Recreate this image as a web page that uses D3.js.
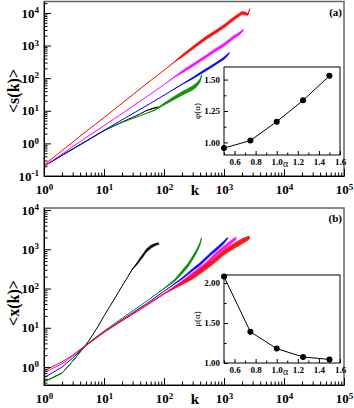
<!DOCTYPE html>
<html><head><meta charset="utf-8">
<script src="https://cdn.jsdelivr.net/npm/d3@7"></script>
<style>body{margin:0;background:#fff} svg{display:block}</style>
</head><body><svg id="c" width="354" height="408"></svg>
<script>
// ---------- DATA ----------
// Panel (a): <s(k)> vs k ; n* = half width of noisy band (decades)
const kA_black = [1, 2, 5, 10, 20, 40, 50, 60, 70, 80];
const sA_black = [0.2, 0.43, 1.15, 2.45, 4.5, 8.0, 10.0, 11.2, 12.2, 13.0];
const nA_black = [0, 0, 0, 0, 0, 0, 0.01, 0.02, 0.02, 0.02];

const kA_green = [1, 2, 5, 10, 12, 20, 40, 70, 100, 150, 200, 250, 300, 350, 400, 425];
const sA_green = [0.2, 0.43, 1.15, 2.45, 2.9, 4.4, 7.0, 10.5, 16, 25, 34, 42, 50, 62, 85, 125];
const nA_green = [0, 0, 0, 0, 0, 0, 0, 0.02, 0.045, 0.06, 0.07, 0.07, 0.075, 0.075, 0.07, 0.04];

const kA_blue = [1, 2, 5, 10, 20, 50, 100, 200, 300, 400, 600, 800, 1000, 1100, 1230];
const sA_blue = [0.2, 0.43, 1.18, 2.5, 5.3, 14, 30, 65, 100, 140, 220, 310, 410, 480, 600];
const nA_blue = [0, 0, 0, 0, 0, 0, 0, 0.015, 0.035, 0.045, 0.045, 0.045, 0.045, 0.045, 0.03];

const kA_magenta = [1, 2, 5, 10, 20, 50, 100, 150, 200, 300, 500, 700, 1000, 1500, 1800, 2100];
const sA_magenta = [0.2, 0.47, 1.5, 3.5, 8.2, 26, 63, 110, 155, 250, 460, 700, 1050, 1870, 2300, 3000];
const nA_magenta = [0, 0, 0, 0, 0, 0, 0, 0.02, 0.045, 0.055, 0.055, 0.055, 0.055, 0.055, 0.055, 0.04];

const kA_red = [1, 2, 5, 10, 20, 50, 100, 150, 200, 300, 500, 700, 1000, 1500, 2000, 2300, 2500, 2700];
const sA_red = [0.22, 0.6, 2.3, 6.2, 17, 65, 175, 320, 480, 850, 1700, 2500, 3900, 7000, 10000, 9500, 9000, 13500];
const nA_red = [0, 0, 0, 0, 0, 0, 0, 0.015, 0.045, 0.06, 0.06, 0.06, 0.06, 0.06, 0.06, 0.06, 0.04, 0.02];

// Panel (b): <x(k)> vs k
const kB_black = [1, 2, 3, 4, 5, 6, 8, 10, 15, 20, 25, 30, 35, 40, 45, 50, 60, 70, 80, 83];
const sB_black = [0.42, 0.7, 1.4, 2.4, 3.7, 5.5, 11, 20, 55, 115, 200, 320, 420, 560, 700, 900, 1150, 1300, 1400, 1350];
const nB_black = [0, 0, 0, 0, 0, 0, 0, 0, 0, 0, 0, 0.02, 0.035, 0.045, 0.05, 0.05, 0.045, 0.04, 0.03, 0.015];

const kB_green = [1, 2, 3, 4, 5, 7, 10, 20, 50, 100, 150, 200, 250, 300, 350, 400, 420];
const sB_green = [0.42, 0.7, 1.4, 2.4, 3.6, 5.5, 8.2, 17.5, 46, 100, 160, 260, 390, 600, 900, 1400, 1900];
const nB_green = [0, 0, 0, 0, 0, 0, 0, 0, 0, 0.015, 0.04, 0.055, 0.06, 0.06, 0.06, 0.06, 0.04];

const kB_blue = [1, 2, 3, 5, 10, 20, 50, 100, 200, 300, 400, 600, 800, 1000, 1150];
const sB_blue = [0.53, 1.0, 1.7, 3.5, 7.8, 16, 40, 85, 180, 300, 420, 760, 1100, 1500, 1950];
const nB_blue = [0, 0, 0, 0, 0, 0, 0, 0, 0.025, 0.04, 0.045, 0.045, 0.045, 0.045, 0.03];

const kB_magenta = [1, 2, 3, 5, 10, 20, 50, 100, 200, 300, 500, 700, 1000, 1300, 1600];
const sB_magenta = [0.72, 1.2, 1.9, 3.6, 7.8, 15.5, 38, 75, 150, 235, 420, 700, 1100, 1500, 1950];
const nB_magenta = [0, 0, 0, 0, 0, 0, 0, 0, 0.03, 0.045, 0.055, 0.055, 0.055, 0.055, 0.04];

const kB_red = [1, 2, 3, 5, 10, 20, 50, 100, 200, 300, 500, 700, 1000, 1500, 2000, 2500, 2700];
const sB_red = [0.8, 1.35, 2.0, 3.6, 7.6, 15, 36, 72, 135, 194, 350, 520, 830, 1250, 1600, 1900, 2000];
const nB_red = [0, 0, 0, 0, 0, 0, 0, 0, 0.04, 0.06, 0.075, 0.075, 0.075, 0.075, 0.075, 0.06, 0.03];

// Insets
const alpha = [0.5, 0.75, 1.0, 1.25, 1.5];
const phi = [0.955, 1.015, 1.165, 1.335, 1.53];
const mu = [2.08, 1.39, 1.18, 1.075, 1.045];

const xMajorTicks = [1, 10, 100, 1000, 10000, 100000];
const insetXTicks = [0.6, 0.8, 1.0, 1.2, 1.4, 1.6];
const insetXMinor = [0.5, 0.7, 0.9, 1.1, 1.3, 1.5];
const phiTicks = [1.0, 1.25, 1.5];
const phiMinor = [1.125, 1.375];
const muTicks = [1.0, 1.5, 2.0];
const muMinor = [1.25, 1.75];

// ---------- DRAW ----------
const svg = d3.select("#c");
const FONT = "'Liberation Serif','Times New Roman',serif";
const COLORS = {black: "#000000", green: "#008a00", blue: "#0000ff", magenta: "#ff00ff", red: "#ff0000"};

function supLabels(g, supSize) {
  g.selectAll(".tick text").each(function(d) {
    const t = d3.select(this);
    t.text(null);
    t.append("tspan").text("10");
    t.append("tspan").attr("dy", "-0.5em").attr("font-size", supSize).text(Math.round(Math.log10(d)));
  });
}

function minorLog(lo, hi) {
  const out = [];
  for (let e = Math.floor(Math.log10(lo)); e <= Math.ceil(Math.log10(hi)); e++)
    for (let m = 2; m <= 9; m++) { const v = m * Math.pow(10, e); if (v >= lo && v <= hi) out.push(v); }
  return out;
}

function mainPanel(cfg) {
  const x = d3.scaleLog().domain([1, 1e5]).range([cfg.left, cfg.right]);
  const y = d3.scaleLog().domain(cfg.yDomain).range([cfg.bottom, cfg.top]);
  const clipId = "clip" + cfg.id;
  svg.append("clipPath").attr("id", clipId).append("rect")
    .attr("x", cfg.left).attr("y", cfg.top).attr("width", cfg.right - cfg.left).attr("height", cfg.bottom - cfg.top);
  const plot = svg.append("g").attr("clip-path", `url(#${clipId})`);

  cfg.series.forEach(s => {
    const pts = s.k.map((k, i) => ({k, v: s.v[i], n: s.n[i]}));
    plot.append("path").datum(pts)
      .attr("d", d3.area().x(p => x(p.k)).y0(p => y(p.v * Math.pow(10, -p.n))).y1(p => y(p.v * Math.pow(10, p.n))))
      .attr("fill", COLORS[s.c]).attr("opacity", 0.85);
    plot.append("path").datum(pts)
      .attr("d", d3.line().x(p => x(p.k)).y(p => y(p.v)))
      .attr("fill", "none").attr("stroke", COLORS[s.c]).attr("stroke-width", 1);
  });

  // frame
  svg.append("rect").attr("x", cfg.left).attr("y", cfg.top)
    .attr("width", cfg.right - cfg.left).attr("height", cfg.bottom - cfg.top)
    .attr("fill", "none").attr("stroke", "#666").attr("stroke-width", 1.5);

  // x axis
  const gxm = svg.append("g").attr("transform", `translate(0,${cfg.bottom})`)
    .call(d3.axisBottom(x).tickValues(minorLog(1, 1e5)).tickSizeInner(-3.5).tickSizeOuter(0).tickFormat(""));
  gxm.select(".domain").remove();
  const gx = svg.append("g").attr("transform", `translate(0,${cfg.bottom})`)
    .call(d3.axisBottom(x).tickValues(xMajorTicks).tickSizeInner(-7).tickSizeOuter(0).tickPadding(9));
  gx.attr("font-family", FONT).attr("font-size", 13).attr("font-weight", "bold");
  supLabels(gx, "9px");

  // y axis
  const yMajor = xMajorTicks.concat([0.1]).filter(v => v >= cfg.yDomain[0] * 0.999 && v <= cfg.yDomain[1]);
  const gym = svg.append("g").attr("transform", `translate(${cfg.left},0)`)
    .call(d3.axisLeft(y).tickValues(minorLog(cfg.yDomain[0], cfg.yDomain[1])).tickSizeInner(-3.5).tickSizeOuter(0).tickFormat(""));
  gym.select(".domain").remove();
  const gy = svg.append("g").attr("transform", `translate(${cfg.left},0)`)
    .call(d3.axisLeft(y).tickValues(yMajor).tickSizeInner(-7).tickSizeOuter(0).tickPadding(5));
  gy.attr("font-family", FONT).attr("font-size", 13).attr("font-weight", "bold");
  supLabels(gy, "9px");

  // labels
  svg.append("text").attr("x", 195).attr("y", cfg.bottom + 19).attr("text-anchor", "middle")
    .attr("font-family", FONT).attr("font-size", 15).attr("font-weight", "bold").text("k");
  svg.append("text").attr("transform", `translate(19,${cfg.yLabelY}) rotate(-90)`).attr("text-anchor", "middle")
    .attr("font-family", FONT).attr("font-size", 16).attr("font-weight", "bold").text(cfg.yLabel);
  svg.append("text").attr("x", cfg.right - 2).attr("y", cfg.top + 14).attr("text-anchor", "end")
    .attr("font-family", FONT).attr("font-size", 11).attr("font-weight", "bold").text(cfg.tag);
}

function inset(cfg) {
  const x = d3.scaleLinear().domain([0.5, 1.6]).range([cfg.left, cfg.right]);
  const y = d3.scaleLinear().domain(cfg.yDomain).range([cfg.bottom, cfg.top]);
  svg.append("rect").attr("x", cfg.left).attr("y", cfg.top)
    .attr("width", cfg.right - cfg.left).attr("height", cfg.bottom - cfg.top)
    .attr("fill", "#fff").attr("stroke", "#000").attr("stroke-width", 1);

  const gxm = svg.append("g").attr("transform", `translate(0,${cfg.bottom})`)
    .call(d3.axisBottom(x).tickValues(insetXMinor).tickSizeInner(-2.5).tickSizeOuter(0).tickFormat(""));
  gxm.select(".domain").remove();
  const gx = svg.append("g").attr("transform", `translate(0,${cfg.bottom})`)
    .call(d3.axisBottom(x).tickValues(insetXTicks).tickSizeInner(-4).tickSizeOuter(0).tickPadding(4).tickFormat(d3.format(".1f")));
  gx.attr("font-family", FONT).attr("font-size", 9).attr("font-weight", "bold");
  gx.select(".domain").remove();

  const gym = svg.append("g").attr("transform", `translate(${cfg.left},0)`)
    .call(d3.axisLeft(y).tickValues(cfg.yMinor).tickSizeInner(-2.5).tickSizeOuter(0).tickFormat(""));
  gym.select(".domain").remove();
  const gy = svg.append("g").attr("transform", `translate(${cfg.left},0)`)
    .call(d3.axisLeft(y).tickValues(cfg.yTicks).tickSizeInner(-4).tickSizeOuter(0).tickPadding(4).tickFormat(d3.format(".2f")));
  gy.attr("font-family", FONT).attr("font-size", 9).attr("font-weight", "bold");
  gy.select(".domain").remove();

  const pts = alpha.map((a, i) => [a, cfg.vals[i]]);
  svg.append("path").datum(pts).attr("d", d3.line().x(p => x(p[0])).y(p => y(p[1])))
    .attr("fill", "none").attr("stroke", "#000").attr("stroke-width", 1);
  svg.selectAll(null).data(pts).enter().append("circle")
    .attr("cx", p => x(p[0])).attr("cy", p => y(p[1])).attr("r", 3).attr("fill", "#000");

  svg.append("text").attr("x", 285.5).attr("y", cfg.bottom + 12).attr("text-anchor", "middle")
    .attr("font-family", FONT).attr("font-size", 10).text("α");
  svg.append("text").attr("transform", `translate(200,${(cfg.top + cfg.bottom) / 2}) rotate(-90)`).attr("text-anchor", "middle")
    .attr("font-family", FONT).attr("font-size", 9).text(cfg.label);
}

const ser = (ks, vs, ns, c) => ({k: ks, v: vs, n: ns, c});

mainPanel({
  id: "a", left: 44, right: 344, top: 1.5, bottom: 176, yDomain: [0.1, Math.pow(10, 4.35)],
  yLabel: "<s(k)>", yLabelY: 91, tag: "(a)",
  series: [
    ser(kA_black, sA_black, nA_black, "black"),
    ser(kA_green, sA_green, nA_green, "green"),
    ser(kA_blue, sA_blue, nA_blue, "blue"),
    ser(kA_magenta, sA_magenta, nA_magenta, "magenta"),
    ser(kA_red, sA_red, nA_red, "red")
  ]
});
mainPanel({
  id: "b", left: 44, right: 344, top: 208, bottom: 385, yDomain: [Math.pow(10, -0.4586), Math.pow(10, 4.051)],
  yLabel: "<x(k)>", yLabelY: 303, tag: "(b)",
  series: [
    ser(kB_black, sB_black, nB_black, "black"),
    ser(kB_green, sB_green, nB_green, "green"),
    ser(kB_blue, sB_blue, nB_blue, "blue"),
    ser(kB_magenta, sB_magenta, nB_magenta, "magenta"),
    ser(kB_red, sB_red, nB_red, "red")
  ]
});
inset({left: 224, right: 340, top: 67, bottom: 155, yDomain: [0.9, 1.6], yTicks: phiTicks, yMinor: phiMinor, vals: phi, label: "φ(α)"});
inset({left: 224, right: 340, top: 275, bottom: 363, yDomain: [1.0, 2.1], yTicks: muTicks, yMinor: muMinor, vals: mu, label: "μ(α)"});
</script></body></html>
